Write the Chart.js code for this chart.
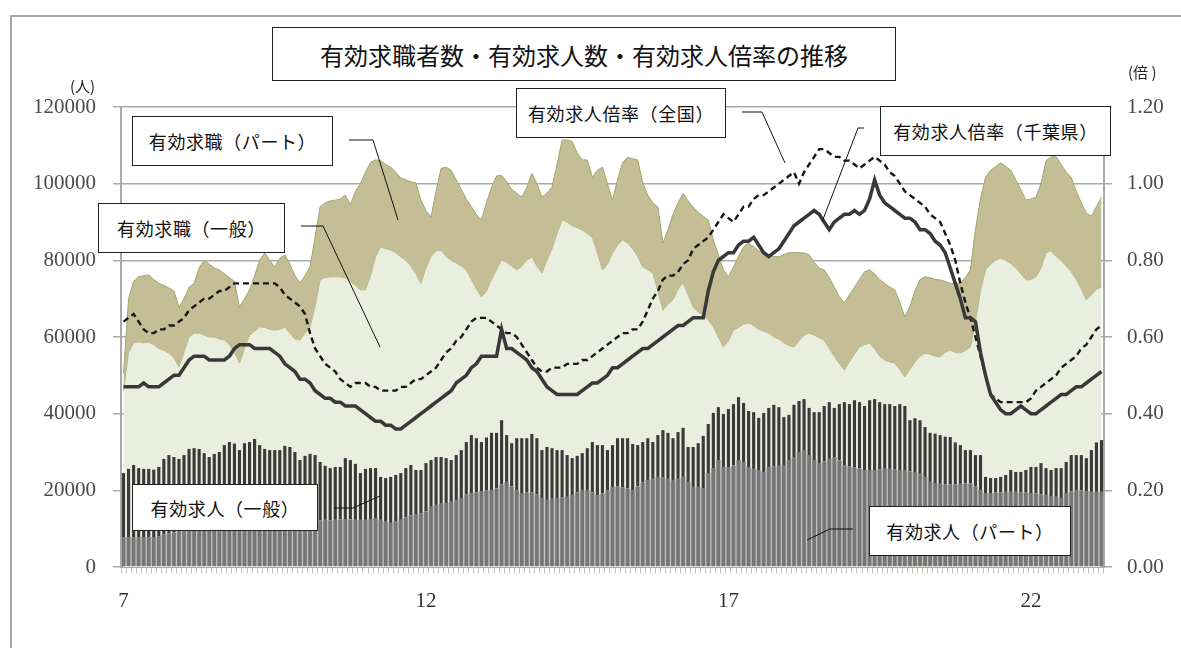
<!DOCTYPE html>
<html lang="ja">
<head>
<meta charset="utf-8">
<title>有効求職者数・有効求人数・有効求人倍率の推移</title>
<script src="https://cdn.jsdelivr.net/npm/chart.js@4.4.1/dist/chart.umd.min.js"></script>
<style>
  html, body { margin: 0; padding: 0; background: #fff; }
  #wrap { position: relative; width: 1181px; height: 648px; overflow: hidden;
          font-family: "Noto Sans CJK JP", "Noto Sans", sans-serif; }
  #frame { position: absolute; left: 10px; top: 15px; width: 1200px; height: 700px;
           border-left: 2px solid #a6a6a6; border-top: 2px solid #a6a6a6; }
  #chart { position: absolute; left: 0; top: 0; }
  .box { position: absolute; box-sizing: border-box; background: #fff; border: 1px solid #222;
         display: flex; align-items: center; justify-content: center;
         color: #111; font-size: 18px; letter-spacing: 0.6px; white-space: nowrap; }
  .title { font-size: 24px; letter-spacing: 0; }
  .unit { position: absolute; font-size: 15px; color: #222; line-height: 1; white-space: pre; }
</style>
</head>
<body>
<div id="wrap">
  <div id="frame"></div>
  <canvas id="chart" width="1181" height="648"></canvas>

  <div class="box title" style="left:272px;top:27px;width:624px;height:54px;">有効求職者数・有効求人数・有効求人倍率の推移</div>
  <div class="unit" style="left:70px;top:78px;">(人)</div>
  <div class="unit" style="left:1128px;top:64px;">(倍 )</div>

  <div class="box" style="left:132px;top:116px;width:201px;height:50px;">有効求職（パート）</div>
  <div class="box" style="left:98px;top:203px;width:187px;height:50px;">有効求職（一般）</div>
  <div class="box" style="left:516px;top:88px;width:210px;height:50px;">有効求人倍率（全国）</div>
  <div class="box" style="left:880px;top:106px;width:231px;height:50px;">有効求人倍率（千葉県）</div>
  <div class="box" style="left:132px;top:484px;width:186px;height:47px;">有効求人（一般）</div>
  <div class="box" style="left:869px;top:506px;width:202px;height:50px;">有効求人（パート）</div>
</div>

<script>
// 平成7年1月〜平成23年3月の月次データ
const startYear = 7;
const yearTicks = ['7', '12', '17', '22'];

// 有効求人倍率（千葉県）
const ratioChiba = [
  0.47,0.47,0.47,0.47,0.48,0.47,0.47,0.47,0.48,0.49,0.50,0.50,
  0.52,0.54,0.55,0.55,0.55,0.54,0.54,0.54,0.54,0.55,0.57,0.58,
  0.58,0.58,0.57,0.57,0.57,0.57,0.56,0.55,0.53,0.52,0.51,0.49,
  0.49,0.48,0.46,0.45,0.44,0.44,0.43,0.43,0.42,0.42,0.42,0.41,
  0.40,0.39,0.38,0.38,0.37,0.37,0.36,0.36,0.37,0.38,0.39,0.40,
  0.41,0.42,0.43,0.44,0.45,0.46,0.48,0.49,0.50,0.52,0.53,0.55,
  0.55,0.55,0.55,0.62,0.57,0.57,0.56,0.55,0.54,0.52,0.51,0.49,
  0.47,0.46,0.45,0.45,0.45,0.45,0.45,0.46,0.47,0.48,0.48,0.49,
  0.50,0.52,0.52,0.53,0.54,0.55,0.56,0.57,0.57,0.58,0.59,0.60,
  0.61,0.62,0.63,0.63,0.64,0.65,0.65,0.65,0.72,0.77,0.80,0.81,
  0.82,0.82,0.84,0.85,0.85,0.86,0.84,0.82,0.81,0.82,0.83,0.85,
  0.87,0.89,0.90,0.91,0.92,0.93,0.92,0.90,0.88,0.90,0.91,0.92,
  0.92,0.93,0.92,0.93,0.96,1.01,0.97,0.95,0.94,0.93,0.92,0.91,
  0.91,0.90,0.88,0.88,0.87,0.85,0.84,0.82,0.78,0.74,0.70,0.65,
  0.65,0.64,0.56,0.50,0.45,0.43,0.41,0.40,0.40,0.41,0.42,0.41,
  0.40,0.40,0.41,0.42,0.43,0.44,0.45,0.45,0.46,0.47,0.47,0.48,
  0.49,0.50,0.51
];

// 有効求人倍率（全国）
const ratioNational = [
  0.64,0.65,0.66,0.64,0.62,0.61,0.61,0.62,0.62,0.63,0.63,0.64,
  0.65,0.67,0.68,0.69,0.70,0.70,0.71,0.72,0.72,0.73,0.74,0.74,
  0.74,0.74,0.74,0.74,0.74,0.74,0.74,0.73,0.71,0.70,0.69,0.68,
  0.66,0.61,0.57,0.55,0.53,0.52,0.51,0.49,0.48,0.47,0.48,0.48,
  0.48,0.47,0.47,0.46,0.46,0.46,0.46,0.47,0.47,0.48,0.49,0.49,
  0.50,0.51,0.52,0.54,0.56,0.57,0.59,0.60,0.62,0.64,0.65,0.65,
  0.65,0.64,0.63,0.62,0.61,0.61,0.60,0.58,0.56,0.54,0.52,0.51,
  0.51,0.52,0.52,0.52,0.53,0.53,0.53,0.54,0.54,0.55,0.56,0.57,
  0.58,0.59,0.60,0.61,0.61,0.62,0.62,0.64,0.67,0.70,0.72,0.75,
  0.76,0.76,0.77,0.79,0.80,0.83,0.84,0.85,0.86,0.88,0.90,0.92,
  0.91,0.90,0.92,0.94,0.94,0.96,0.97,0.97,0.98,0.99,1.00,1.01,
  1.02,1.03,1.00,1.03,1.05,1.07,1.09,1.09,1.08,1.07,1.07,1.06,
  1.06,1.05,1.04,1.05,1.06,1.07,1.06,1.05,1.03,1.02,1.00,0.98,
  0.97,0.96,0.95,0.94,0.92,0.91,0.90,0.87,0.84,0.80,0.74,0.69,
  0.65,0.60,0.55,0.50,0.45,0.44,0.43,0.43,0.43,0.43,0.43,0.43,
  0.44,0.46,0.47,0.48,0.49,0.50,0.52,0.53,0.54,0.55,0.57,0.58,
  0.60,0.62,0.63
];

// 有効求職（一般）
const seekersGeneral = [
  46000,56000,58400,58700,58500,58700,58000,57000,56500,55800,54500,52200,
  56000,60000,61000,61000,60500,60000,60000,59500,59200,58000,56000,53200,
  57000,60500,61500,62600,62500,62000,61800,62000,62600,61000,59500,59200,
  61000,62600,68000,74900,75500,75700,75700,75700,75500,74500,73500,72300,
  72300,76000,81000,83500,83000,82700,82000,80900,80000,78500,76500,74000,
  78000,81000,82500,82700,81000,80000,79300,78500,77500,75000,72500,70400,
  72000,75000,77500,80100,79500,78500,77500,78500,80000,80900,78500,76700,
  80000,83000,87000,90500,90000,89000,88500,87900,87000,86100,82000,77500,
  79000,81900,84000,85300,84500,83000,81000,78300,77500,76700,72000,67000,
  68500,69700,72500,74100,71000,67800,66500,65700,64500,62600,60000,57400,
  59000,61800,62500,63300,63700,63000,62000,61500,61000,60000,59500,58500,
  57800,57400,59000,60500,61000,60500,59800,59200,57000,55000,53000,51400,
  53500,55500,57400,58000,58400,57000,55000,54000,53500,53200,51500,49600,
  51500,53500,55000,55800,55500,55000,54800,56000,56600,56000,55800,56500,
  57400,64000,72000,77500,79000,80000,80600,80000,79200,78000,76500,74900,
  75000,75700,78000,82000,82500,81000,80000,78500,77000,75000,72500,69700,
  71000,72500,73000
];

// 有効求職（パート）
const seekersPart = [
  4500,14000,16100,17000,17500,17500,17000,17000,17000,17000,17500,15600,
  14000,13000,13000,17000,19600,19000,18000,18000,17300,17500,18500,14600,
  13000,11800,14500,17400,19400,18000,16500,18500,18800,18000,16500,14900,
  15000,15700,18000,19000,19500,19800,20000,20300,21500,20000,24500,27700,
  30700,29500,25200,22500,22000,21600,21000,20600,21000,22000,23700,21700,
  15000,10300,15500,21300,23300,23500,21700,20000,18500,19000,19500,20100,
  23000,24000,24500,22100,21000,20000,20000,18000,19000,21800,21500,19800,
  17500,16100,18000,20900,21400,22000,19500,18300,19200,15600,21500,26800,
  21000,13800,17000,20200,22400,23500,25200,21900,19500,18300,21900,17500,
  19500,22300,22500,23400,24500,26100,26000,25800,26000,22700,21500,20100,
  16700,16500,18500,20200,20800,20500,20500,20400,20500,21000,21400,23000,
  24200,24600,23000,21400,20500,19000,18200,18300,18500,18000,17500,17500,
  17500,17500,17600,19000,19100,19500,20000,20000,19500,19100,17500,15600,
  16500,18500,20000,19900,20000,20000,20100,18500,17400,18000,18200,19000,
  20100,24000,24000,24200,24500,24500,24800,24500,24300,23000,22000,20800,
  21000,20800,22000,24000,24500,26000,25000,24500,24700,23000,22500,22600,
  20500,21500,23500
];

// 有効求人（パート）
const openingsPart = [
  7800,7800,7800,7800,7800,7800,7800,8000,8500,8800,9000,9200,
  9300,9500,9700,9800,9800,9900,10000,10200,10400,10600,10800,10800,
  11000,11200,11300,11300,11200,11200,11300,11500,11700,11800,11800,11600,
  11800,12000,12100,12200,12300,12200,12300,12400,12500,12400,12300,12300,
  12300,12500,12800,12300,11800,11500,12000,12500,13000,13500,13800,14000,
  14500,15700,16200,16500,16700,17000,17500,18000,19000,19300,19500,19800,
  20000,20100,20500,21500,22200,21000,20000,19300,19400,19500,19000,18000,
  17500,17800,18000,18200,18300,18800,19500,20100,20100,19500,18800,19200,
  20000,20900,21000,20800,20500,20100,21000,22000,22700,23000,23500,23300,
  23000,22500,23000,23500,22200,20900,20900,20600,24500,25800,27900,26100,
  26100,26500,27900,27400,26100,25600,25300,24800,26100,26300,26300,26600,
  27900,28700,30000,30500,29200,27900,27100,27500,28200,28700,27800,26600,
  26300,26000,25700,25300,25300,25300,25500,25800,25600,25400,25300,25300,
  25000,24800,24500,23500,22200,21900,21700,21500,21500,21600,21700,21800,
  21800,21000,20100,19300,19300,19400,19500,19600,19600,19600,19500,19400,
  19300,19200,19000,18800,18500,18300,18000,19300,19700,20100,20000,19800,
  19600,19600,19600
];

// 有効求人（一般）
const openingsGeneral = [
  16700,17800,18800,18000,17800,17800,17600,18100,19700,20400,19700,19000,
  19900,21300,21300,21000,19900,18800,19500,19800,21400,22000,21400,19700,
  21300,21400,22100,20500,19600,19300,19200,19000,19900,19500,18200,16300,
  17200,17500,17100,15200,14100,13600,13800,13700,15900,15500,14600,12200,
  13300,13300,13000,11200,11400,12000,12000,12000,12800,13100,11500,11300,
  12600,12200,12500,12200,11700,10900,11700,12500,13600,15100,14100,12800,
  13800,14900,14500,16800,12200,11300,13600,14300,14200,15200,14600,12500,
  13800,13200,12500,12300,10900,9600,9500,9600,10900,13100,13000,12600,
  10500,10900,12600,12800,13100,12000,10800,10600,10900,9600,10900,12400,
  12000,11100,12200,12800,9100,10400,11400,13600,12800,14400,13800,13800,
  15100,16000,16400,15400,14600,14800,13600,15400,15400,16000,15400,12500,
  11800,13600,13300,13300,12300,12500,13300,14500,14800,12800,14700,16400,
  16200,17500,17300,16700,18200,18500,17500,16700,16900,16600,17200,16700,
  13300,14000,13800,13000,12800,12900,12700,12500,12400,10900,10100,8700,
  8700,8200,9100,4200,3900,3800,4000,4400,5700,5200,5300,5900,
  6800,6900,8100,7000,6800,7500,7800,8100,9500,9100,9200,8600,
  10900,12900,13500
];

// 月ラベル（"年.月"）
const monthLabels = seekersGeneral.map((_, i) => `${startYear + Math.floor(i / 12)}.${i % 12 + 1}`);

// 引き出し線（ラベル枠から系列へ）
const leaderLines = [
  [[349, 140], [373, 140], [398, 220]],
  [[301, 226], [323, 226], [380, 347]],
  [[742, 112], [762, 112], [785, 163]],
  [[864, 128], [858, 128], [822, 222]],
  [[334, 508], [353, 508], [380, 496]],
  [[853, 529], [830, 529], [807, 540]]
];

const leaderPlugin = {
  id: 'leaders',
  afterDraw(chart) {
    const ctx = chart.ctx;
    ctx.save();
    ctx.strokeStyle = '#111';
    ctx.lineWidth = 1;
    leaderLines.forEach(pts => {
      ctx.beginPath();
      pts.forEach(([x, y], i) => (i ? ctx.lineTo(x, y) : ctx.moveTo(x, y)));
      ctx.stroke();
    });
    ctx.restore();
  }
};

const tickFont = { family: "'Liberation Serif', serif", size: 21 };
const gridGrey = '#a9a9a9';

new Chart(document.getElementById('chart'), {
  type: 'bar',
  data: {
    labels: monthLabels,
    datasets: [
      {
        type: 'line', label: '有効求人倍率（千葉県）', data: ratioChiba, yAxisID: 'y2',
        borderColor: '#383838', borderWidth: 3.5, pointRadius: 0, tension: 0, fill: false, order: 0
      },
      {
        type: 'line', label: '有効求人倍率（全国）', data: ratioNational, yAxisID: 'y2',
        borderColor: '#161616', borderWidth: 2.4, borderDash: [6, 4], pointRadius: 0, tension: 0, fill: false, order: 0
      },
      {
        label: '有効求人（パート）', data: openingsPart, yAxisID: 'y', stack: 'open',
        backgroundColor: '#767676', borderColor: '#bdbdbd',
        borderWidth: { left: 1, right: 1, top: 0, bottom: 0 }, borderSkipped: false,
        barPercentage: 1, categoryPercentage: 1, order: 1
      },
      {
        label: '有効求人（一般）', data: openingsGeneral, yAxisID: 'y', stack: 'open',
        backgroundColor: '#3a3a3a', barPercentage: 0.62, categoryPercentage: 1, order: 1
      },
      {
        type: 'line', label: '有効求職（一般）', data: seekersGeneral, yAxisID: 'y', stack: 'seek',
        fill: 'origin', backgroundColor: '#e9eedf', borderColor: '#b2ba8a', borderWidth: 1,
        pointRadius: 0, tension: 0, order: 2
      },
      {
        type: 'line', label: '有効求職（パート）', data: seekersPart, yAxisID: 'y', stack: 'seek',
        fill: '-1', backgroundColor: '#c4bd95', borderColor: '#9fa76b', borderWidth: 1,
        pointRadius: 0, tension: 0, order: 2
      }
    ]
  },
  options: {
    responsive: false,
    devicePixelRatio: 1,
    animation: false,
    events: [],
    layout: { padding: { top: 107, left: 0, right: 0, bottom: 0 } },
    plugins: { legend: { display: false }, tooltip: { enabled: false } },
    scales: {
      x: {
        stacked: true,
        offset: true,
        grid: { display: true, drawOnChartArea: false, tickLength: 6, color: '#c2c2c2', offset: true },
        border: { display: true, color: gridGrey, width: 2 },
        ticks: {
          autoSkip: false, maxRotation: 0, minRotation: 0, padding: 16,
          color: '#333', font: tickFont,
          callback(value) {
            const [y, m] = this.getLabelForValue(value).split('.');
            return m === '1' && yearTicks.includes(y) ? y : '';
          }
        },
        afterFit(scale) { scale.height = 81; }
      },
      y: {
        stacked: true,
        position: 'left',
        min: 0, max: 120000,
        grid: { color: gridGrey, lineWidth: 1.5, tickLength: 8 },
        border: { color: gridGrey, width: 2 },
        ticks: { stepSize: 20000, padding: 17, color: '#4a4a4a', font: tickFont, callback: v => String(v) },
        afterFit(scale) { scale.width = 121; }
      },
      y2: {
        position: 'right',
        min: 0, max: 1.2,
        grid: { drawOnChartArea: false, color: gridGrey, lineWidth: 1.5, tickLength: 8 },
        border: { color: gridGrey, width: 2 },
        ticks: { stepSize: 0.2, padding: 15, color: '#4a4a4a', font: tickFont, callback: v => Number(v).toFixed(2) },
        afterFit(scale) { scale.width = 77; }
      }
    }
  },
  plugins: [leaderPlugin]
});
</script>
</body>
</html>
